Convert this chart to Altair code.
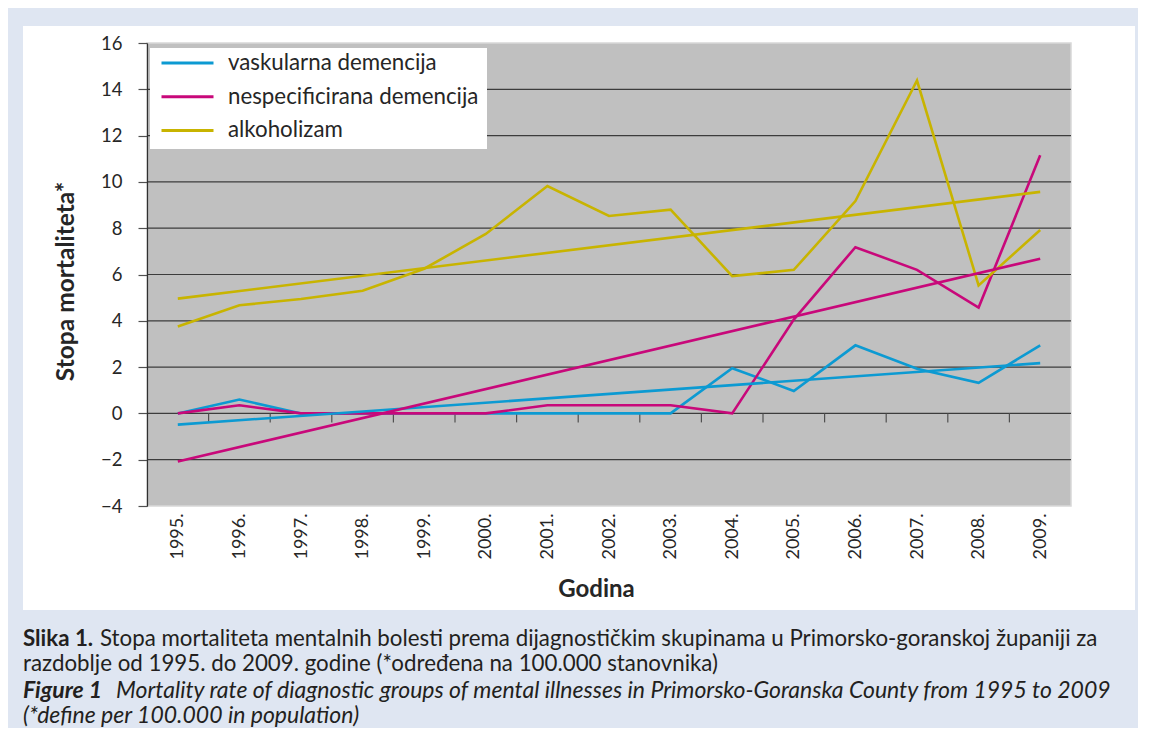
import altair as alt
import pandas as pd

# ---- data ----
years = list(range(1995, 2010))
series_names = ["vaskularna demencija", "nespecificirana demencija", "alkoholizam"]
vaskularna = [0, 0.6, 0, 0, 0, 0, 0, 0, 0, 1.95, 0.97, 2.94, 1.93, 1.32, 2.94]
nespecificirana = [0, 0.35, 0, 0, 0, 0, 0.35, 0.35, 0.35, 0, 4.05, 7.18, 6.2, 4.57, 11.15]
alkoholizam = [3.75, 4.67, 4.94, 5.3, 6.25, 7.75, 9.82, 8.53, 8.8, 5.93, 6.2, 9.17, 14.38, 5.53, 7.92]
series_colors = ["#0c9ad2", "#c8087a", "#c8b400"]
y_ticks = [-4, -2, 0, 2, 4, 6, 8, 10, 12, 14, 16]
grid_vals = [-2, 0, 2, 4, 6, 8, 10, 12, 14]
tick_bounds = [y + 0.5 for y in years[:-1]]

caption_bold = ["Slika 1.", "Figure 1"]
caption_rest = [
    "Stopa mortaliteta mentalnih bolesti prema dijagnostičkim skupinama u Primorsko-goranskoj županiji za",
    "razdoblje od 1995. do 2009. godine (*određena na 100.000 stanovnika)",
    "Mortality rate of diagnostic groups of mental illnesses in Primorsko-Goranska County from 1995 to 2009",
    "(*define per 100.000 in population)",
]

rows = []
for name, vals in zip(series_names, [vaskularna, nespecificirana, alkoholizam]):
    for yr, v in zip(years, vals):
        rows.append({"year": yr, "value": v, "series": name})
df = pd.DataFrame(rows)

FONT = "Lato"
W, H = 924, 463
TXT = "#262626"

xscale = alt.Scale(domain=[1994.5, 2009.5], nice=False, zero=False)
yscale = alt.Scale(domain=[-4, 16], nice=False, zero=False)

xax = alt.Axis(values=years, labelExpr="datum.value + '.'", labelAngle=-90,
               domain=False, ticks=False, tickSize=0, grid=False, labelPadding=7,
               labelFont=FONT, labelFontSize=18, labelColor=TXT,
               title="Godina", titleFont=FONT, titleFontSize=24, titleFontWeight="bold",
               titleColor=TXT, titleX=449, titleY=90, titleBaseline="alphabetic",
               titleAlign="center", zindex=1, labelOverlap=False)
yax = alt.Axis(values=y_ticks, grid=False, domain=True, domainColor="#303030", domainWidth=1.2,
               ticks=True, tickSize=9, tickColor="#505050", tickWidth=1.2,
               labelPadding=16, labelFont=FONT, labelFontSize=18.5, labelColor=TXT,
               title="Stopa mortaliteta*", titleFont=FONT, titleFontSize=24.5,
               titleFontWeight="bold", titleColor=TXT, titleX=-81, titleY=238,
               titleAngle=-90, titleAlign="center", titleBaseline="middle", zindex=1)

color = alt.Color("series:N",
                  scale=alt.Scale(domain=series_names, range=series_colors),
                  legend=alt.Legend(title=None, orient="none", legendX=13, legendY=8,
                                    symbolType="stroke", symbolSize=2704, symbolStrokeWidth=3,
                                    clipHeight=24, rowPadding=9.7, padding=0,
                                    labelFont=FONT, labelFontSize=22.3, labelColor=TXT,
                                    labelOffset=13, labelLimit=500, zindex=1))

one = pd.DataFrame({"k": [0]})

white_panel = alt.Chart(one).mark_rect(color="white").encode(
    x=alt.value(-124), x2=alt.value(988), y=alt.value(-17), y2=alt.value(567))
gray_plot = alt.Chart(one).mark_rect(color="#c0c0c0", stroke="#d8d8d8", strokeWidth=1.5).encode(
    x=alt.value(0), x2=alt.value(W), y=alt.value(0), y2=alt.value(H))

grid = alt.Chart(pd.DataFrame({"v": grid_vals})).mark_rule(color="#3c3c3c", strokeWidth=1.2).encode(
    y=alt.Y("v:Q", scale=yscale, axis=yax))

ticks = alt.Chart(pd.DataFrame({"b": tick_bounds})).mark_rule(color="#505050", strokeWidth=1.2).encode(
    x=alt.X("b:Q", scale=xscale, axis=xax), y=alt.value(370.4), y2=alt.value(379.4))

legend_box = alt.Chart(one).mark_rect(color="white").encode(
    x=alt.value(3), x2=alt.value(340), y=alt.value(5), y2=alt.value(106))

lines = alt.Chart(df).mark_line(strokeWidth=2.6).encode(
    x=alt.X("year:Q", scale=xscale, axis=xax),
    y=alt.Y("value:Q", scale=yscale, axis=yax),
    color=color)

trend = alt.Chart(df).transform_regression(
    "year", "value", groupby=["series"]).mark_line(strokeWidth=2.6).encode(
    x=alt.X("year:Q", scale=xscale, axis=xax),
    y=alt.Y("value:Q", scale=yscale, axis=yax),
    color=color)


def text_layer(s, x, y, size, weight="normal", style="normal"):
    return alt.Chart(pd.DataFrame({"t": [s]})).mark_text(
        align="left", baseline="alphabetic", font=FONT, fontSize=size,
        fontWeight=weight, fontStyle=style, color="#231f20").encode(
        text="t:N", x=alt.value(x), y=alt.value(y))


captions = [
    text_layer(caption_bold[0], -124, 603, 22.3, weight="bold"),
    text_layer(caption_rest[0], -47, 603, 22.3),
    text_layer(caption_rest[1], -124, 627.5, 22.3),
    text_layer(caption_bold[1], -124, 654.5, 23, weight="bold", style="italic"),
    text_layer(caption_rest[2], -31, 654.5, 23, style="italic"),
    text_layer(caption_rest[3], -124, 680, 23, style="italic"),
]

chart = alt.layer(white_panel, gray_plot, grid, ticks, legend_box, lines, trend, *captions).properties(
    width=W, height=H,
    autosize=alt.AutoSizeParams(type="none"),
    padding={"left": 139, "top": 35, "right": 67, "bottom": 222},
    background="#dfe6f2",
).configure_view(stroke=None)

chart.save("out.html", embed_options={"renderer": "svg", "actions": False})
